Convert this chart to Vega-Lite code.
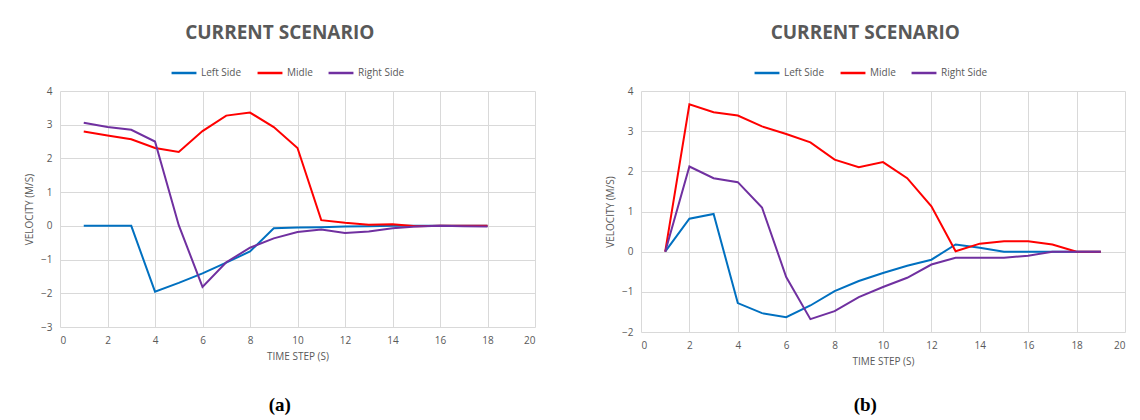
{
  "$schema": "https://vega.github.io/schema/vega-lite/v6.json",
  "background": "white",
  "padding": {"left": 24, "top": 24, "right": 5, "bottom": 2},
  "spacing": 70,
  "datasets": {
    "a": [
      {"t": 1, "s": "Left Side", "v": 0}, {"t": 2, "s": "Left Side", "v": 0}, {"t": 3, "s": "Left Side", "v": 0},
      {"t": 4, "s": "Left Side", "v": -1.95}, {"t": 5, "s": "Left Side", "v": -1.69}, {"t": 6, "s": "Left Side", "v": -1.41},
      {"t": 7, "s": "Left Side", "v": -1.09}, {"t": 8, "s": "Left Side", "v": -0.76}, {"t": 9, "s": "Left Side", "v": -0.07},
      {"t": 10, "s": "Left Side", "v": -0.05}, {"t": 11, "s": "Left Side", "v": -0.04}, {"t": 12, "s": "Left Side", "v": -0.02},
      {"t": 13, "s": "Left Side", "v": -0.01}, {"t": 14, "s": "Left Side", "v": 0}, {"t": 15, "s": "Left Side", "v": 0},
      {"t": 16, "s": "Left Side", "v": 0}, {"t": 17, "s": "Left Side", "v": 0}, {"t": 18, "s": "Left Side", "v": 0},
      {"t": 1, "s": "Midle", "v": 2.8}, {"t": 2, "s": "Midle", "v": 2.68}, {"t": 3, "s": "Midle", "v": 2.57},
      {"t": 4, "s": "Midle", "v": 2.31}, {"t": 5, "s": "Midle", "v": 2.19}, {"t": 6, "s": "Midle", "v": 2.81},
      {"t": 7, "s": "Midle", "v": 3.27}, {"t": 8, "s": "Midle", "v": 3.36}, {"t": 9, "s": "Midle", "v": 2.93},
      {"t": 10, "s": "Midle", "v": 2.31}, {"t": 11, "s": "Midle", "v": 0.17}, {"t": 12, "s": "Midle", "v": 0.09},
      {"t": 13, "s": "Midle", "v": 0.03}, {"t": 14, "s": "Midle", "v": 0.05}, {"t": 15, "s": "Midle", "v": -0.01},
      {"t": 16, "s": "Midle", "v": 0}, {"t": 17, "s": "Midle", "v": 0}, {"t": 18, "s": "Midle", "v": 0},
      {"t": 1, "s": "Right Side", "v": 3.06}, {"t": 2, "s": "Right Side", "v": 2.93}, {"t": 3, "s": "Right Side", "v": 2.85},
      {"t": 4, "s": "Right Side", "v": 2.5}, {"t": 5, "s": "Right Side", "v": 0.02}, {"t": 6, "s": "Right Side", "v": -1.81},
      {"t": 7, "s": "Right Side", "v": -1.08}, {"t": 8, "s": "Right Side", "v": -0.65}, {"t": 9, "s": "Right Side", "v": -0.37},
      {"t": 10, "s": "Right Side", "v": -0.18}, {"t": 11, "s": "Right Side", "v": -0.11}, {"t": 12, "s": "Right Side", "v": -0.21},
      {"t": 13, "s": "Right Side", "v": -0.17}, {"t": 14, "s": "Right Side", "v": -0.07}, {"t": 15, "s": "Right Side", "v": -0.02},
      {"t": 16, "s": "Right Side", "v": 0}, {"t": 17, "s": "Right Side", "v": -0.01}, {"t": 18, "s": "Right Side", "v": -0.02}
    ],
    "b": [
      {"t": 1, "s": "Left Side", "v": 0}, {"t": 2, "s": "Left Side", "v": 0.82}, {"t": 3, "s": "Left Side", "v": 0.94},
      {"t": 4, "s": "Left Side", "v": -1.28}, {"t": 5, "s": "Left Side", "v": -1.53}, {"t": 6, "s": "Left Side", "v": -1.63},
      {"t": 7, "s": "Left Side", "v": -1.34}, {"t": 8, "s": "Left Side", "v": -0.98}, {"t": 9, "s": "Left Side", "v": -0.73},
      {"t": 10, "s": "Left Side", "v": -0.53}, {"t": 11, "s": "Left Side", "v": -0.35}, {"t": 12, "s": "Left Side", "v": -0.2},
      {"t": 13, "s": "Left Side", "v": 0.18}, {"t": 14, "s": "Left Side", "v": 0.1}, {"t": 15, "s": "Left Side", "v": 0},
      {"t": 16, "s": "Left Side", "v": 0}, {"t": 17, "s": "Left Side", "v": 0}, {"t": 18, "s": "Left Side", "v": 0},
      {"t": 19, "s": "Left Side", "v": 0},
      {"t": 1, "s": "Midle", "v": 0}, {"t": 2, "s": "Midle", "v": 3.67}, {"t": 3, "s": "Midle", "v": 3.47},
      {"t": 4, "s": "Midle", "v": 3.39}, {"t": 5, "s": "Midle", "v": 3.12}, {"t": 6, "s": "Midle", "v": 2.93},
      {"t": 7, "s": "Midle", "v": 2.72}, {"t": 8, "s": "Midle", "v": 2.29}, {"t": 9, "s": "Midle", "v": 2.1},
      {"t": 10, "s": "Midle", "v": 2.23}, {"t": 11, "s": "Midle", "v": 1.83}, {"t": 12, "s": "Midle", "v": 1.13},
      {"t": 13, "s": "Midle", "v": 0.01}, {"t": 14, "s": "Midle", "v": 0.2}, {"t": 15, "s": "Midle", "v": 0.26},
      {"t": 16, "s": "Midle", "v": 0.26}, {"t": 17, "s": "Midle", "v": 0.18}, {"t": 18, "s": "Midle", "v": 0},
      {"t": 19, "s": "Midle", "v": 0},
      {"t": 1, "s": "Right Side", "v": 0}, {"t": 2, "s": "Right Side", "v": 2.12}, {"t": 3, "s": "Right Side", "v": 1.83},
      {"t": 4, "s": "Right Side", "v": 1.73}, {"t": 5, "s": "Right Side", "v": 1.1}, {"t": 6, "s": "Right Side", "v": -0.63},
      {"t": 7, "s": "Right Side", "v": -1.68}, {"t": 8, "s": "Right Side", "v": -1.48}, {"t": 9, "s": "Right Side", "v": -1.13},
      {"t": 10, "s": "Right Side", "v": -0.88}, {"t": 11, "s": "Right Side", "v": -0.65}, {"t": 12, "s": "Right Side", "v": -0.32},
      {"t": 13, "s": "Right Side", "v": -0.15}, {"t": 14, "s": "Right Side", "v": -0.15}, {"t": 15, "s": "Right Side", "v": -0.15},
      {"t": 16, "s": "Right Side", "v": -0.1}, {"t": 17, "s": "Right Side", "v": 0}, {"t": 18, "s": "Right Side", "v": 0},
      {"t": 19, "s": "Right Side", "v": 0}
    ]
  },
  "config": {
    "font": "Open Sans",
    "view": {"stroke": null},
    "axis": {
      "labelColor": "#595959", "titleColor": "#595959", "labelFontSize": 10, "titleFontSize": 10,
      "titleFontWeight": "normal", "gridColor": "#D9D9D9", "gridWidth": 1, "domain": false, "ticks": false,
      "labelPadding": 8, "titlePadding": 6
    },
    "legend": {
      "orient": "none", "direction": "horizontal", "title": null, "labelColor": "#595959", "labelFontSize": 10,
      "labelOffset": 3, "symbolType": "stroke", "symbolSize": 620, "symbolStrokeWidth": 2.5, "columnPadding": 10
    }
  },
  "hconcat": [
    {
      "title": {"text": "(a)", "orient": "bottom", "font": "Liberation Serif", "fontSize": 19, "fontWeight": "bold", "color": "#000000", "anchor": "middle", "offset": 35},
      "vconcat": [
        {
          "width": 475, "height": 236,
          "data": {"name": "a"},
          "title": {"text": "CURRENT SCENARIO", "fontSize": 19, "fontWeight": "bold", "color": "#595959", "anchor": "middle", "frame": "bounds", "offset": 43},
          "mark": {"type": "line", "strokeWidth": 2},
          "encoding": {
            "x": {"field": "t", "type": "quantitative", "scale": {"domain": [0, 20], "nice": false}, "axis": {"values": [0, 2, 4, 6, 8, 10, 12, 14, 16, 18, 20], "title": "TIME STEP (S)"}},
            "y": {"field": "v", "type": "quantitative", "scale": {"domain": [-3, 4], "nice": false}, "axis": {"values": [-3, -2, -1, 0, 1, 2, 3, 4], "title": "VELOCITY (M/S)"}},
            "color": {"field": "s", "type": "nominal", "scale": {"domain": ["Left Side", "Midle", "Right Side"], "range": ["#0070C0", "#FF0000", "#7030A0"]}, "legend": {"legendX": 110, "legendY": -32}}
          }
        }
      ]
    },
    {
      "title": {"text": "(b)", "orient": "bottom", "font": "Liberation Serif", "fontSize": 19, "fontWeight": "bold", "color": "#000000", "anchor": "middle", "offset": 30},
      "vconcat": [
        {
          "width": 484, "height": 241,
          "data": {"name": "b"},
          "title": {"text": "CURRENT SCENARIO", "fontSize": 19, "fontWeight": "bold", "color": "#595959", "anchor": "middle", "frame": "bounds", "offset": 43},
          "mark": {"type": "line", "strokeWidth": 2},
          "encoding": {
            "x": {"field": "t", "type": "quantitative", "scale": {"domain": [0, 20], "nice": false}, "axis": {"values": [0, 2, 4, 6, 8, 10, 12, 14, 16, 18, 20], "title": "TIME STEP (S)"}},
            "y": {"field": "v", "type": "quantitative", "scale": {"domain": [-2, 4], "nice": false}, "axis": {"values": [-2, -1, 0, 1, 2, 3, 4], "title": "VELOCITY (M/S)"}},
            "color": {"field": "s", "type": "nominal", "scale": {"domain": ["Left Side", "Midle", "Right Side"], "range": ["#0070C0", "#FF0000", "#7030A0"]}, "legend": {"legendX": 112, "legendY": -32}}
          }
        }
      ]
    }
  ],
  "resolve": {"scale": {"color": "independent"}}
}
